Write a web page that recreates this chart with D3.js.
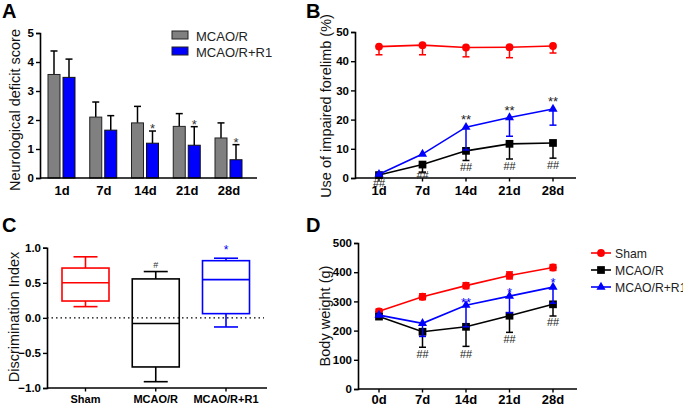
<!DOCTYPE html>
<html><head><meta charset="utf-8">
<script src="https://cdn.jsdelivr.net/npm/d3@7"></script>
<style>body{margin:0;background:#fff}svg{display:block;font-family:"Liberation Sans",Arial,sans-serif}</style>
</head><body>
<script>
// ---- Panel A data ----
const daysA = ["1d","7d","14d","21d","28d"];
const aMcao = [3.57,2.10,1.90,1.78,1.38];
const aMcaoErr = [0.81,0.52,0.57,0.44,0.52];
const aR1 = [3.47,1.65,1.20,1.13,0.63];
const aR1Err = [0.63,0.50,0.42,0.64,0.52];
const aStars = ["","","*","*","*"];
// ---- Panel B data ----
const daysB = ["1d","7d","14d","21d","28d"];
const bSham = [45.0,45.5,44.7,44.8,45.2];
const bShamErr = [2.8,3.3,3.2,3.6,2.4];
const bMcao = [1.0,4.6,9.3,11.7,12.0];
const bMcaoErr = [1.0,2.6,3.3,5.2,5.2];
const bR1 = [1.3,8.2,17.4,20.7,23.6];
const bR1Err = [0.3,0,7.8,6.4,5.5];
const bHash = ["##","##","##","##","##"];
const bStars = ["","","**","**","**"];
// ---- Panel C data ----
const groupsC = ["Sham","MCAO/R","MCAO/R+R1"];
const cMin = [0.16,-0.91,-0.13];
const cQ1 = [0.24,-0.70,0.06];
const cMed = [0.50,-0.08,0.545];
const cQ3 = [0.71,0.555,0.815];
const cMax = [0.87,0.66,0.85];
const cMarks = ["","#","*"];
// ---- Panel D data ----
const daysD = ["0d","7d","14d","21d","28d"];
const dSham = [266,316,354,389,416];
const dShamErr = [8,10,10,12,10];
const dMcao = [248,196,213,251,290];
const dMcaoErr = [0,53,67,57,40];
const dR1 = [253,225,287,318,349];
const dR1Err = [0,45,74,57,55];
const dHash = ["","##","##","##","##"];
const dStars = ["","","**","*","*"];
const seriesNames = ["Sham","MCAO/R","MCAO/R+R1"];

const W=683,H=406;
const svg=d3.select("body").append("svg").attr("width",W).attr("height",H);
const RED="#ff0000",BLUE="#0000ff",BLK="#000",GRAY="#808080";

function panelLabel(t,x,y){svg.append("text").attr("x",x).attr("y",y).text(t).attr("font-size",20).attr("font-weight","bold");}
function yAxis(g,y,x,ticks,fmt){
  const ax=svg.append("g").attr("transform",`translate(${x},0)`).call(d3.axisLeft(y).tickValues(ticks).tickFormat(fmt).tickSizeOuter(0).tickSize(4).tickPadding(2));
  ax.select(".domain").attr("stroke-width",1.6);
  ax.selectAll(".tick line").attr("stroke-width",1.4);
  ax.selectAll("text").attr("font-size",11.5).attr("font-weight","bold").attr("font-family","Liberation Sans, Arial, sans-serif");
  return ax;
}
function xAxisLine(x1,x2,y){svg.append("line").attr("x1",x1).attr("x2",x2).attr("y1",y).attr("y2",y).attr("stroke","#000").attr("stroke-width",1.6);}
function xTicks(x,cats,y,ty,tick,fs){
  cats.forEach(c=>{
    if(tick) svg.append("line").attr("x1",x(c)).attr("x2",x(c)).attr("y1",y).attr("y2",y+3.5).attr("stroke","#000").attr("stroke-width",1.4);
    svg.append("text").attr("x",x(c)).attr("y",ty).attr("text-anchor","middle").attr("font-size",fs||13).attr("font-weight","bold").text(c);
  });
}
function yTitle(t,x,y){svg.append("text").attr("transform",`translate(${x},${y}) rotate(-90)`).attr("text-anchor","middle").attr("font-size",14.5).attr("fill","#111").text(t);}
function errBar(x,y1,y2,color,cap){
  svg.append("line").attr("x1",x).attr("x2",x).attr("y1",y1).attr("y2",y2).attr("stroke",color).attr("stroke-width",1.5);
  svg.append("line").attr("x1",x-cap).attr("x2",x+cap).attr("y1",y2).attr("y2",y2).attr("stroke",color).attr("stroke-width",1.5);
}

// ================= Panel A =================
panelLabel("A",2,18);
const xA=d3.scalePoint().domain(daysA).range([62,229]);
const yA=d3.scaleLinear().domain([0,5]).range([178,33]);
aMcao.forEach((v,i)=>{
  const cx=xA(daysA[i]);
  errBar(cx-8,yA(v),yA(v+aMcaoErr[i]),BLK,3.5);
  svg.append("rect").attr("x",cx-14).attr("y",yA(v)).attr("width",12).attr("height",yA(0)-yA(v)).attr("fill",GRAY).attr("stroke","#222").attr("stroke-width",1);
});
aR1.forEach((v,i)=>{
  const cx=xA(daysA[i]);
  errBar(cx+7,yA(v),yA(v+aR1Err[i]),BLK,3.5);
  svg.append("rect").attr("x",cx+1).attr("y",yA(v)).attr("width",12).attr("height",yA(0)-yA(v)).attr("fill",BLUE).attr("stroke","#111").attr("stroke-width",1);
  if(aStars[i]) svg.append("text").attr("x",cx+7).attr("y",yA(v+aR1Err[i])+2).attr("text-anchor","middle").attr("font-size",13).attr("fill","#333").text(aStars[i]);
});
yAxis(null,yA,40,[0,1,2,3,4,5],d3.format("d"));
xAxisLine(40,257,178);
xTicks(xA,daysA,178,195,false,13);
yTitle("Neurological deficit score",20,110);
// legend A
[["MCAO/R",GRAY],["MCAO/R+R1",BLUE]].forEach((d,i)=>{
  svg.append("rect").attr("x",172).attr("y",31+i*16).attr("width",16).attr("height",8).attr("fill",d[1]).attr("stroke","#222");
  svg.append("text").attr("x",196).attr("y",40.5+i*16).attr("font-size",13).attr("fill","#222").text(d[0]);
});

// ================= Panel B =================
panelLabel("B",306,18);
const xB=d3.scalePoint().domain(daysB).range([379,553]);
const yB=d3.scaleLinear().domain([0,50]).range([178,32]);
function drawSeries(x,y,cats,vals,errs,color,shape,both){
  vals.forEach((v,i)=>{ if(errs[i]>0){ errBar(x(cats[i]),y(v),y(v-errs[i]),color,3.5); if(both) errBar(x(cats[i]),y(v),y(v+errs[i]),color,3.5);} });
  svg.append("path").datum(vals).attr("d",d3.line().x((d,i)=>x(cats[i])).y(d=>y(d))).attr("fill","none").attr("stroke",color).attr("stroke-width",1.6);
  const sym=d3.symbol().type(shape).size(shape===d3.symbolTriangle?36:(shape===d3.symbolSquare?60:48));
  vals.forEach((v,i)=>{
    svg.append("path").attr("d",sym()).attr("transform",`translate(${x(cats[i])},${y(v)})`).attr("fill",color);
  });
}
drawSeries(xB,yB,daysB,bSham,bShamErr,RED,d3.symbolCircle);
drawSeries(xB,yB,daysB,bMcao,bMcaoErr,BLK,d3.symbolSquare);
drawSeries(xB,yB,daysB,bR1,bR1Err,BLUE,d3.symbolTriangle);
yAxis(null,yB,355,[0,10,20,30,40,50],d3.format("d"));
xAxisLine(355,576,178);
xTicks(xB,daysB,178,195,true,13);
bHash.forEach((h,i)=>{
  const yy=[183,175,167,166,165][i];
  svg.append("text").attr("x",xB(daysB[i])).attr("y",yy+4).attr("text-anchor","middle").attr("font-size",11).attr("fill","#222").text(h);
});
bStars.forEach((s,i)=>{ if(s) svg.append("text").attr("x",xB(daysB[i])).attr("y",yB(bR1[i])-3).attr("text-anchor","middle").attr("font-size",13).attr("fill","#222").text(s);});
yTitle("Use of impaired forelimb (%)",331,106);

// ================= Panel C =================
panelLabel("C",2,232);
const xC=d3.scalePoint().domain(groupsC).range([85.5,226]);
const yC=d3.scaleLinear().domain([-1,1]).range([388,247.7]);
const cColors=[RED,BLK,BLUE];
svg.append("line").attr("x1",47).attr("x2",264).attr("y1",yC(0)).attr("y2",yC(0)).attr("stroke","#000").attr("stroke-width",1.4).attr("stroke-dasharray","1.5,3");
groupsC.forEach((g,i)=>{
  const cx=xC(g),c=cColors[i],bw=47;
  const gg=svg.append("g").attr("stroke",c).attr("stroke-width",1.6).attr("fill","none");
  gg.append("line").attr("x1",cx).attr("x2",cx).attr("y1",yC(cMax[i])).attr("y2",yC(cQ3[i]));
  gg.append("line").attr("x1",cx).attr("x2",cx).attr("y1",yC(cQ1[i])).attr("y2",yC(cMin[i]));
  gg.append("line").attr("x1",cx-12).attr("x2",cx+12).attr("y1",yC(cMax[i])).attr("y2",yC(cMax[i]));
  gg.append("line").attr("x1",cx-12).attr("x2",cx+12).attr("y1",yC(cMin[i])).attr("y2",yC(cMin[i]));
  gg.append("rect").attr("x",cx-bw/2).attr("y",yC(cQ3[i])).attr("width",bw).attr("height",yC(cQ1[i])-yC(cQ3[i]));
  gg.append("line").attr("x1",cx-bw/2).attr("x2",cx+bw/2).attr("y1",yC(cMed[i])).attr("y2",yC(cMed[i]));
  if(cMarks[i]) svg.append("text").attr("x",cx).attr("y",yC(cMax[i])-4).attr("text-anchor","middle").attr("font-size",i===2?12:9).attr("fill",i===2?BLUE:"#333").text(cMarks[i]);
});
yAxis(null,yC,47,[-1,-0.5,0,0.5,1],d3.format(".1f"));
xAxisLine(47,267,388);
xTicks(xC,groupsC,388,403,true,11);
yTitle("Discrimination Index",19,317);

// ================= Panel D =================
panelLabel("D",306,232);
const xD=d3.scalePoint().domain(daysD).range([379,553]);
const yD=d3.scaleLinear().domain([0,500]).range([389,243]);
drawSeries(xD,yD,daysD,dSham,dShamErr,RED,d3.symbolCircle,true);
drawSeries(xD,yD,daysD,dMcao,dMcaoErr,BLK,d3.symbolSquare);
drawSeries(xD,yD,daysD,dR1,dR1Err,BLUE,d3.symbolTriangle);
yAxis(null,yD,358,[0,100,200,300,400,500],d3.format("d"));
xAxisLine(358,577,389);
xTicks(xD,daysD,389,404,true,13);
dHash.forEach((h,i)=>{
  if(!h) return;
  const yy=[0,354,354,339,322][i];
  svg.append("text").attr("x",xD(daysD[i])).attr("y",yy+4).attr("text-anchor","middle").attr("font-size",11).attr("fill","#222").text(h);
});
dStars.forEach((s,i)=>{ if(!s) return; const yy=[0,0,301,291,281][i]; svg.append("text").attr("x",xD(daysD[i])).attr("y",yy+6).attr("text-anchor","middle").attr("font-size",13).attr("fill",BLUE).text(s);});
yTitle("Body weight (g)",330,316);
// legend D
const legShapes=[d3.symbolCircle,d3.symbolSquare,d3.symbolTriangle];
const legColors=[RED,BLK,BLUE];
seriesNames.forEach((n,i)=>{
  const ly=253+i*17;
  svg.append("line").attr("x1",591).attr("x2",611).attr("y1",ly).attr("y2",ly).attr("stroke",legColors[i]).attr("stroke-width",1.6);
  svg.append("path").attr("d",d3.symbol().type(legShapes[i]).size(legShapes[i]===d3.symbolTriangle?36:(legShapes[i]===d3.symbolSquare?60:48))()).attr("transform",`translate(601,${ly})`).attr("fill",legColors[i]);
  svg.append("text").attr("x",615).attr("y",ly+4.5).attr("font-size",12.2).attr("fill","#222").text(n);
});
</script>
</body></html>
